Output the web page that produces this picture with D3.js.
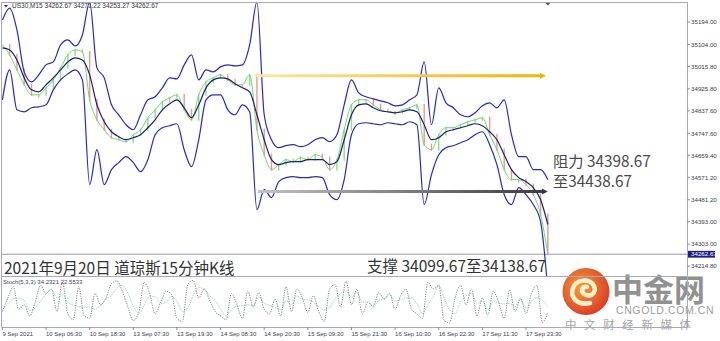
<!DOCTYPE html>
<html>
<head>
<meta charset="utf-8">
<script src="https://cdn.jsdelivr.net/npm/d3@7"></script>
<style>
  body { margin: 0; background: #fff; }
  svg { display: block; font-family: "Liberation Sans", Arial, sans-serif; }
</style>
</head>
<body>
<div id="vis"></div>
<script>
// US30 M15, one sample every 8 bars (bar 0 = 9 Sep 2021 18:30)
const sampleStep = 8;
const upperBand = [35202,35250,35162,34994,34954,34982,35022,35034,35102,35122,35098,35142,35274,35010,34970,34862,34822,34782,34762,34822,
  34882,34894,34930,34970,34966,35022,35062,34962,35002,34994,35014,35022,35018,35022,35102,35274,34822,34722,34690,34698,
  34702,34694,34702,34722,34730,34714,34742,34862,34962,34910,34894,34886,34878,34870,34858,34862,34882,34902,35034,34782,
  34930,34870,34850,34822,34814,34830,34858,34870,34850,34882,34742,34654,34654,34602,34602,34562];
const middleBand = [35090,35082,35042,34970,34922,34914,34942,34970,35002,35034,35050,35042,34982,34862,34794,34754,34734,34722,34730,34742,
  34770,34802,34842,34866,34882,34850,34810,34862,34930,34962,34970,34966,34946,34930,34914,34822,34722,34642,34622,34630,
  34634,34634,34642,34642,34642,34622,34634,34722,34822,34862,34866,34850,34838,34834,34830,34834,34842,34834,34782,34722,
  34730,34754,34762,34770,34778,34786,34778,34754,34722,34662,34602,34570,34554,34530,34482,34382];
const lowerBand = [34882,35002,34842,34834,34850,34854,34862,34922,34962,34986,35002,34962,34542,34682,34542,34602,34630,34654,34630,34594,
  34642,34742,34770,34778,34786,34682,34614,34722,34882,34902,34902,34842,34822,34862,34834,34442,34522,34490,34554,34570,
  34574,34570,34570,34574,34570,34502,34482,34562,34742,34786,34790,34786,34782,34790,34786,34782,34794,34782,34462,34582,
  34662,34690,34698,34710,34722,34742,34754,34702,34622,34502,34462,34530,34502,34462,34394,34122];
const closes = [35102,35062,35002,34942,34902,34902,34930,34962,35010,35062,35082,35074,34882,34802,34762,34730,34722,34714,34742,34762,
  34810,34842,34874,34890,34902,34842,34802,34902,34954,34970,34982,34962,34942,34942,34982,34762,34662,34602,34622,34642,
  34634,34650,34642,34662,34650,34602,34642,34762,34862,34882,34882,34862,34842,34834,34830,34842,34850,34862,34702,34682,
  34742,34770,34770,34782,34794,34802,34810,34742,34682,34602,34562,34562,34542,34502,34422,34262.67];

// Stochastic(5,3,3), one sample every 6 bars
const stochStep = 6;
const stochMain = [30,60,85,35,45,20,50,88,70,80,30,95,25,12,85,20,15,70,45,60,
  92,98,75,40,10,28,95,70,25,50,75,68,15,8,90,99,60,80,55,30,
  20,12,70,45,15,75,40,72,35,25,58,20,85,30,80,60,28,65,30,8,
  80,90,40,98,45,80,25,50,42,72,58,70,35,65,80,35,25,14,95,80,
  88,10,5,60,88,45,80,20,60,22,75,50,15,78,30,60,25,70,88,6,28];
const stochSignal = [35,45,58,60,55,33,38,53,69,79,60,68,50,44,41,39,40,35,43,58,
  66,83,88,71,42,26,44,64,63,48,50,64,53,30,38,66,83,80,65,55,
  35,21,34,42,43,45,43,62,49,44,39,34,54,45,65,57,56,51,41,34,
  39,59,70,76,61,74,50,52,39,55,57,67,54,57,60,60,47,25,45,63,
  88,59,34,25,51,64,71,48,53,34,52,49,47,48,41,56,38,52,61,55,41];

const priceTicks = [35194.00, 35104.00, 35015.80, 34925.80, 34837.60, 34747.60, 34659.40, 34571.20, 34481.20, 34393.00, 34303.00, 34214.80];
const timeTickBars = [0, 48, 96, 144, 192, 240, 288, 336, 384, 432, 480, 528, 576];
const timeTickLabels = ["9 Sep 2021", "10 Sep 06:30", "10 Sep 18:30", "13 Sep 07:30", "13 Sep 19:30", "14 Sep 08:30", "14 Sep 20:30",
  "15 Sep 09:30", "15 Sep 21:30", "16 Sep 10:30", "16 Sep 22:30", "17 Sep 11:30", "17 Sep 23:30"];

const lastPrice = 34262.67;
const resistLine = { price: 34978, from: 278, to: 597 };
const supportLine = { price: 34514, from: 281, to: 599 };

const W = 720, H = 341;
const plotRight = 687, mainTop = 3, mainBottom = 276, stochBottom = 327;

const svg = d3.select("#vis").append("svg")
  .attr("width", W).attr("height", H)
  .attr("viewBox", `0 0 ${W} ${H}`);

const x = d3.scaleLinear().domain([0, 576]).range([2.4, 526]);
const y = d3.scaleLinear().domain([34214.8, 35194]).range([266.2, 22]);
const ys = d3.scaleLinear().domain([0, 100]).range([325, 280]);

const defs = svg.append("defs");
defs.append("clipPath").attr("id", "mainClip")
  .append("rect").attr("x", 2).attr("y", mainTop).attr("width", plotRight - 2).attr("height", mainBottom - mainTop);
defs.append("clipPath").attr("id", "stochClip")
  .append("rect").attr("x", 2).attr("y", mainBottom + 1).attr("width", plotRight - 2).attr("height", stochBottom - mainBottom - 1);

function lineGrad(id, x1, x2, c1, c2) {
  const g = defs.append("linearGradient").attr("id", id)
    .attr("gradientUnits", "userSpaceOnUse")
    .attr("x1", x1).attr("x2", x2).attr("y1", 0).attr("y2", 0);
  g.append("stop").attr("offset", 0).attr("stop-color", c1);
  g.append("stop").attr("offset", 1).attr("stop-color", c2);
}
lineGrad("yellowGrad", x(resistLine.from), x(resistLine.to), "#fbe7a8", "#f2b206");
lineGrad("grayGrad", x(supportLine.from), x(supportLine.to), "#c4c4c4", "#3a3a3a");

const logoGrad = defs.append("radialGradient").attr("id", "logoGrad")
  .attr("cx", "40%").attr("cy", "40%").attr("r", "65%");
logoGrad.append("stop").attr("offset", 0).attr("stop-color", "#f79a2a");
logoGrad.append("stop").attr("offset", 1).attr("stop-color", "#d8301c");

// Watermark (drawn first so the chart frame sits on top)
const logo = svg.append("g").attr("opacity", 0.95);
logo.append("circle").attr("cx", 586).attr("cy", 291.5).attr("r", 23.5).attr("fill", "url(#logoGrad)");
logo.append("path")
  .attr("d", "M 590 303 C 576 306 570 296 573 288 C 576 279 590 278 594 286 C 597 293 590 298 584 294 C 580 291 583 286 587 287")
  .attr("fill", "none").attr("stroke", "#fff1cc").attr("stroke-width", 4.5).attr("stroke-linecap", "round");
logo.append("text").attr("x", 612).attr("y", 300.5)
  .attr("font-family", "'Noto Sans CJK SC', sans-serif").attr("font-weight", 700)
  .attr("font-size", 31).attr("fill", "#8c8c8c").text("中金网");
logo.append("text").attr("x", 616).attr("y", 314)
  .attr("font-family", "'Liberation Sans', Arial, sans-serif")
  .attr("font-size", 10.5).attr("letter-spacing", 0.6).attr("fill", "#9a9a9a").text("CNGOLD.COM.CN");
logo.append("text").attr("x", 565).attr("y", 329)
  .attr("font-family", "'Noto Sans CJK SC', sans-serif")
  .attr("font-size", 11.5).attr("letter-spacing", 7.6).attr("fill", "#a0a0a0").text("中文财经新媒体");

// Frame
const frame = svg.append("g").attr("fill", "none").attr("stroke", "#a8a8c0").attr("stroke-width", 1);
frame.append("line").attr("x1", 1.5).attr("x2", 1.5).attr("y1", 2).attr("y2", stochBottom);
frame.append("line").attr("x1", 1.5).attr("x2", plotRight).attr("y1", 2.5).attr("y2", 2.5);
frame.append("line").attr("x1", plotRight + 0.5).attr("x2", plotRight + 0.5).attr("y1", 2).attr("y2", stochBottom);
frame.append("line").attr("x1", 1.5).attr("x2", plotRight).attr("y1", mainBottom + 0.5).attr("y2", mainBottom + 0.5);
frame.append("line").attr("x1", 1.5).attr("x2", plotRight).attr("y1", stochBottom + 0.5).attr("y2", stochBottom + 0.5);

// chart shift marker
svg.append("path").attr("d", `M ${x(600) - 2.5} 3 L ${x(600) + 2.5} 3 L ${x(600)} 5.5 Z`).attr("fill", "#555");

// Main panel
const main = svg.append("g").attr("clip-path", "url(#mainClip)");

// bid line
main.append("line").attr("x1", 2).attr("x2", plotRight)
  .attr("y1", y(lastPrice)).attr("y2", y(lastPrice))
  .attr("stroke", "#9a9aa6").attr("stroke-width", 1);

// candles (open = previous sample close)
const candleData = closes.slice(1).map((c, i) => ({ bar: (i + 1) * sampleStep, open: closes[i], close: c }));
const candleColor = d => Math.abs(d.close - d.open) < 10 ? "#c9bc74" : (d.close > d.open ? "#86d96e" : "#ee8a80");
main.selectAll("rect.candle").data(candleData).join("rect")
  .attr("class", "candle")
  .attr("x", d => x(d.bar) - 0.7)
  .attr("width", 1.4)
  .attr("y", d => y(Math.max(d.open, d.close)) - 1)
  .attr("height", d => Math.max(4, Math.abs(y(d.open) - y(d.close)) + 2))
  .attr("fill", candleColor)
  .attr("opacity", 0.9);

const bandLine = d3.line()
  .x((d, i) => x(i * sampleStep))
  .y(d => y(d))
  .curve(d3.curveMonotoneX);

main.append("path").datum(closes)
  .attr("fill", "none").attr("stroke", "#6adc6a").attr("stroke-width", 1).attr("d", bandLine);
main.append("path").datum(middleBand)
  .attr("fill", "none").attr("stroke", "#1d1d7a").attr("stroke-width", 1.2).attr("d", bandLine);
main.append("path").datum(upperBand)
  .attr("fill", "none").attr("stroke", "#2828c8").attr("stroke-width", 1.2).attr("d", bandLine);
main.append("path").datum(lowerBand)
  .attr("fill", "none").attr("stroke", "#2828c8").attr("stroke-width", 1.2).attr("d", bandLine);

// drawn levels with arrow heads
function levelLine(lvl, grad, headColor) {
  const x1 = x(lvl.from), x2 = x(lvl.to), yy = y(lvl.price);
  main.append("line").attr("x1", x1).attr("x2", x2 - 3).attr("y1", yy).attr("y2", yy)
    .attr("stroke", `url(#${grad})`).attr("stroke-width", 3);
  main.append("path").attr("d", `M ${x2 - 5} ${yy - 3} L ${x2 + 1} ${yy} L ${x2 - 5} ${yy + 3} Z`).attr("fill", headColor);
}
levelLine(resistLine, "yellowGrad", "#f2b206");
levelLine(supportLine, "grayGrad", "#3a3a3a");

// Stochastic panel
const stoch = svg.append("g").attr("clip-path", "url(#stochClip)");
const stochLine = d3.line()
  .x((d, i) => x(i * stochStep))
  .y(d => ys(d))
  .curve(d3.curveMonotoneX);
stoch.append("path").datum(stochSignal)
  .attr("fill", "none").attr("stroke", "#8fd3ca").attr("stroke-width", 0.9)
  .attr("stroke-dasharray", "1.5,1").attr("d", stochLine);
stoch.append("path").datum(stochMain)
  .attr("fill", "none").attr("stroke", "#858585").attr("stroke-width", 1)
  .attr("stroke-dasharray", "1.2,1.2").attr("d", stochLine);

// Price axis
const pAxis = svg.append("g").attr("font-size", 6.2).attr("fill", "#3c3c4c");
priceTicks.forEach(p => {
  pAxis.append("line").attr("x1", plotRight).attr("x2", plotRight + 3)
    .attr("y1", y(p)).attr("y2", y(p)).attr("stroke", "#8888a0");
  pAxis.append("text").attr("x", plotRight + 4).attr("y", y(p) + 2.2).text(p.toFixed(2));
});
svg.append("rect").attr("x", plotRight + 1).attr("y", y(lastPrice) - 3.4)
  .attr("width", 27).attr("height", 6.8).attr("fill", "#1c1c8a");
svg.append("text").attr("x", plotRight + 4).attr("y", y(lastPrice) + 2.2)
  .attr("font-size", 6.2).attr("fill", "#fff").text(lastPrice.toFixed(2));

// Time axis
const tAxis = svg.append("g").attr("font-size", 6).attr("fill", "#3c3c4c");
timeTickBars.forEach((b, i) => {
  tAxis.append("line").attr("x1", x(b)).attr("x2", x(b)).attr("y1", stochBottom).attr("y2", stochBottom + 3)
    .attr("stroke", "#8888a0");
  tAxis.append("text").attr("x", x(b)).attr("y", 335.5).text(timeTickLabels[i]);
});

// header labels
svg.append("path").attr("d", "M 4 5 L 8 5 L 6 7.5 Z").attr("fill", "#333");
svg.append("text").attr("x", 12).attr("y", 8).attr("font-size", 6.5).attr("fill", "#333")
  .text("US30,M15  34262.67 34271.22 34253.27 34262.67");
svg.append("text").attr("x", 3).attr("y", 284).attr("font-size", 6).attr("fill", "#44446a")
  .text("Stoch(5,3,3) 34.2321 22.5533");

// annotations
const cjk = "'Noto Sans CJK SC', sans-serif";
svg.append("text").attr("x", 553).attr("y", 167).attr("font-family", cjk).attr("font-size", 15.3).attr("fill", "#4a4a4a")
  .text("阻力 34398.67");
svg.append("text").attr("x", 553).attr("y", 187).attr("font-family", cjk).attr("font-size", 15.3).attr("fill", "#4a4a4a")
  .text("至34438.67");
svg.append("text").attr("x", 4).attr("y", 274).attr("font-family", cjk).attr("font-size", 15.5).attr("fill", "#333")
  .text("2021年9月20日 道琼斯15分钟K线");
svg.append("text").attr("x", 367).attr("y", 272).attr("font-family", cjk).attr("font-size", 15.5).attr("fill", "#333")
  .text("支撑 34099.67至34138.67");
</script>
</body>
</html>
